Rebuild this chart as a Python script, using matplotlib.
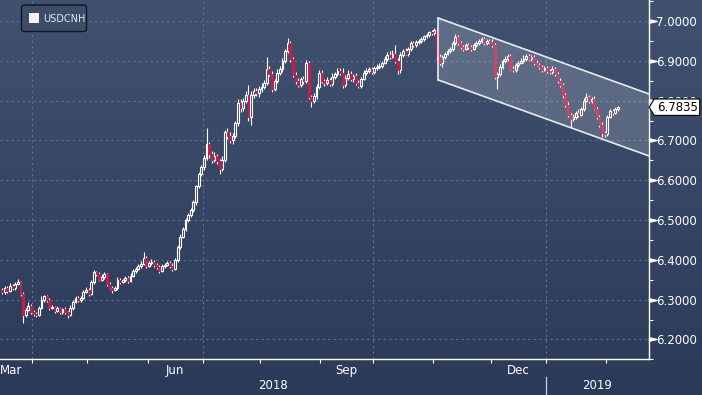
import numpy as np
import pandas as pd
import matplotlib
matplotlib.use("Agg")
import matplotlib.pyplot as plt
import matplotlib.transforms as mtransforms
from matplotlib.patches import Polygon, FancyBboxPatch, Rectangle
from matplotlib.path import Path

# --- datos (cierres diarios USDCNH) ---
start_date = "2018-03-15"
first_open = 6.325
closes = [
    6.318, 6.330, 6.322, 6.335, 6.328, 6.340, 6.345, 6.315, 6.262, 6.275, 6.285, 6.270,
    6.265, 6.262, 6.280, 6.300, 6.308, 6.298, 6.280, 6.282, 6.272, 6.278,
    6.270, 6.276, 6.268, 6.262, 6.280, 6.295, 6.305, 6.300, 6.305, 6.320,
    6.325, 6.315, 6.345, 6.370, 6.365, 6.350, 6.358, 6.365, 6.340, 6.330,
    6.325, 6.330, 6.350, 6.345, 6.350, 6.355, 6.348, 6.360, 6.372, 6.378,
    6.385, 6.390, 6.405, 6.385, 6.392, 6.395, 6.388, 6.382, 6.372, 6.385,
    6.388, 6.392, 6.385, 6.378, 6.400, 6.432, 6.458, 6.478, 6.500, 6.512,
    6.525, 6.545, 6.585, 6.615, 6.632, 6.655, 6.690, 6.665, 6.650, 6.660,
    6.648, 6.628, 6.652, 6.720, 6.712, 6.700, 6.712, 6.745, 6.795, 6.782,
    6.800, 6.815, 6.760, 6.815, 6.825, 6.818, 6.830, 6.835, 6.845, 6.880,
    6.868, 6.830, 6.850, 6.870, 6.880, 6.900, 6.925, 6.945, 6.905, 6.865,
    6.850, 6.840, 6.855, 6.850, 6.895, 6.808, 6.800, 6.812, 6.835, 6.870,
    6.850, 6.845, 6.852, 6.842, 6.860, 6.868, 6.875, 6.870, 6.840, 6.858,
    6.868, 6.855, 6.862, 6.845, 6.838, 6.855, 6.870, 6.875, 6.880, 6.872,
    6.882, 6.885, 6.888, 6.895, 6.905, 6.915, 6.910, 6.918, 6.900, 6.876,
    6.915, 6.925, 6.918, 6.930, 6.945, 6.940, 6.948, 6.950, 6.955, 6.962,
    6.965, 6.972, 6.970, 6.978, 6.910, 6.895, 6.910, 6.918, 6.925, 6.930,
    6.945, 6.960, 6.945, 6.935, 6.930, 6.940, 6.935, 6.930, 6.940, 6.945,
    6.950, 6.955, 6.945, 6.950, 6.948, 6.940, 6.860, 6.868, 6.885, 6.900,
    6.905, 6.912, 6.880, 6.878, 6.890, 6.895, 6.900, 6.905, 6.912, 6.905,
    6.910, 6.895, 6.890, 6.885, 6.878, 6.882, 6.875, 6.872, 6.880, 6.868,
    6.850, 6.840, 6.815, 6.790, 6.765, 6.755, 6.760, 6.770, 6.765, 6.778,
    6.800, 6.808, 6.800, 6.805, 6.780, 6.760, 6.740, 6.718, 6.715, 6.760,
    6.775, 6.770, 6.778, 6.7835,
]
# mechas (milesimas por encima / por debajo del cuerpo)
wick_up = [
    4, 5, 3, 6, 4, 5, 6, 3, 4, 5, 8, 4,
    3, 4, 5, 10, 4, 3, 5, 4, 3, 5,
    4, 3, 5, 3, 6, 4, 5, 3, 4, 5,
    6, 4, 5, 4, 3, 5, 6, 4, 3, 5,
    4, 5, 6, 4, 3, 5, 4, 6, 5, 4,
    5, 6, 15, 4, 5, 6, 4, 3, 5, 4,
    4, 5, 4, 6, 5, 4, 6, 5, 4, 6,
    5, 6, 4, 5, 6, 8, 40, 6, 8, 12,
    6, 5, 8, 6, 10, 8, 6, 5, 10, 8,
    6, 8, 25, 10, 6, 8, 6, 10, 8, 30,
    8, 6, 5, 10, 8, 6, 5, 13, 6, 5,
    6, 8, 5, 8, 6, 5, 6, 8, 6, 8,
    6, 5, 8, 6, 10, 5, 6, 8, 12, 6,
    10, 6, 5, 8, 6, 5, 8, 6, 5, 4,
    5, 8, 6, 5, 8, 6, 10, 8, 23, 6,
    6, 5, 8, 6, 5, 6, 4, 5, 6, 4,
    5, 4, 6, 5, 4, 6, 5, 4, 6, 5,
    6, 8, 5, 6, 4, 5, 6, 4, 6, 5,
    4, 6, 5, 4, 5, 6, 4, 5, 6, 5,
    6, 5, 4, 6, 5, 4, 6, 10, 5, 6,
    5, 4, 6, 5, 4, 6, 5, 4, 6, 5,
    4, 6, 5, 4, 6, 5, 6, 5, 8, 5,
    6, 10, 5, 4, 6, 5, 4, 6, 5, 4,
    5, 4, 5, 4,
]
wick_dn = [
    5, 4, 6, 3, 5, 4, 3, 6, 22, 5, 4, 6,
    5, 6, 4, 3, 5, 4, 6, 3, 5, 4,
    5, 6, 4, 8, 3, 5, 4, 6, 5, 4,
    3, 5, 4, 6, 5, 4, 3, 5, 6, 4,
    8, 4, 5, 6, 4, 5, 6, 4, 3, 5,
    4, 5, 3, 6, 4, 5, 6, 5, 4, 3,
    5, 4, 6, 5, 4, 6, 5, 4, 6, 5,
    4, 5, 6, 5, 4, 6, 5, 8, 6, 5,
    6, 12, 5, 6, 8, 6, 10, 6, 8, 10,
    8, 6, 10, 22, 8, 6, 10, 8, 6, 5,
    6, 8, 6, 5, 6, 8, 5, 6, 8, 6,
    8, 6, 5, 8, 6, 5, 15, 6, 8, 5,
    6, 8, 5, 6, 5, 6, 5, 6, 8, 5,
    5, 6, 8, 5, 6, 5, 4, 5, 6, 5,
    6, 4, 5, 6, 4, 5, 6, 4, 5, 8,
    6, 5, 4, 6, 5, 4, 5, 6, 4, 5,
    4, 5, 6, 4, 8, 6, 10, 5, 4, 6,
    5, 4, 6, 5, 6, 4, 5, 6, 4, 5,
    6, 4, 5, 6, 4, 5, 6, 30, 5, 6,
    5, 6, 4, 5, 6, 5, 4, 6, 5, 4,
    6, 5, 4, 6, 5, 4, 6, 5, 4, 6,
    5, 6, 8, 5, 6, 20, 5, 6, 5, 4,
    5, 4, 6, 5, 4, 6, 5, 10, 6, 5,
    4, 6, 4, 5,
]
# canal bajista (x en dias habiles desde el inicio)
chan_x = [166.5, 246.8]
chan_top = [7.0074, 6.8171]
chan_bot = [6.8519, 6.6613]

yticks = [6.2, 6.3, 6.4, 6.5, 6.6, 6.7, 6.8, 6.9, 7.0]
month_labels = {"Jun": 6, "Sep": 9, "Dec": 12}

# --- colores ---
BG_TOP = "#415170"
BG_BOT = "#2b3a58"
RED = "#c41f4c"
GRID = "#5d7393"

closes = np.array(closes)
opens = np.r_[first_open, closes[:-1]]
highs = np.maximum(opens, closes) + np.array(wick_up) / 1000
lows = np.minimum(opens, closes) - np.array(wick_dn) / 1000
x = np.arange(len(closes))
up = closes >= opens

W, H = 702, 395
fig = plt.figure(figsize=(W / 100, H / 100), dpi=100)

# fondo degradado
bg = fig.add_axes([0, 0, 1, 1], zorder=-10)
grad = np.linspace(0, 1, 256).reshape(-1, 1)
cmap = matplotlib.colors.LinearSegmentedColormap.from_list("bg", [BG_TOP, BG_BOT])
bg.imshow(grad, aspect="auto", cmap=cmap, extent=[0, 1, 0, 1])
bg.axis("off")

ax_h = 359.3 / H
ax_w = 648.7 / W
ax = fig.add_axes([0, 1 - ax_h, ax_w, ax_h])
ax.set_facecolor("none")
ax.set_xlim(-0.83, 246.8)
ax.set_ylim(6.1613, 7.0529)

# limites de mes en dias habiles
month_starts = pd.date_range("2018-04-01", "2019-02-01", freq="MS")
bounds = {d: np.busday_count(start_date, d.date()) - 0.5 for d in month_starts}
quarter_b = [b for d, b in bounds.items() if d.month in (1, 4, 7, 10)]

for y in yticks:
    ax.axhline(y, color=GRID, lw=0.8, ls=(0, (2, 3)), zorder=0)
for b in quarter_b:
    ax.axvline(b, color=GRID, lw=0.8, ls=(0, (2, 3)), zorder=0)

# velas
bw = 0.7
top_body = np.maximum(opens, closes)
bot_body = np.minimum(opens, closes)
ax.vlines(x, top_body, highs, color="white", lw=0.8, zorder=2)
ax.vlines(x, lows, bot_body, color="white", lw=0.8, zorder=2)
h = np.maximum(top_body - bot_body, 0.0008)
ax.bar(x[up], h[up], bottom=bot_body[up], width=bw, facecolor="none",
       edgecolor="white", lw=0.8, zorder=3)
ax.bar(x[~up], h[~up], bottom=bot_body[~up], width=bw, facecolor=RED,
       edgecolor=RED, lw=0.8, zorder=3)

# canal
poly = Polygon([(chan_x[0], chan_top[0]), (chan_x[1], chan_top[1]),
                (chan_x[1], chan_bot[1]), (chan_x[0], chan_bot[0])],
               closed=True, facecolor="white", alpha=0.17, edgecolor="none", zorder=4)
ax.add_patch(poly)
ax.plot(chan_x, chan_top, color="#e8ecf2", lw=1.2, zorder=5)
ax.plot(chan_x, chan_bot, color="#e8ecf2", lw=1.2, zorder=5)
ax.plot([chan_x[0], chan_x[0]], [chan_top[0], chan_bot[0]], color="#e8ecf2", lw=1.2, zorder=5)

# ejes
for s in ["left", "top"]:
    ax.spines[s].set_visible(False)
for s in ["right", "bottom"]:
    ax.spines[s].set_color("white")
    ax.spines[s].set_linewidth(1.0)

ax.yaxis.tick_right()
ax.set_yticks(yticks)
ax.set_yticklabels([f"{v:.4f}" for v in yticks])
ax.set_yticks(np.arange(6.15, 7.06, 0.1), minor=True)
ax.tick_params(axis="y", which="major", length=0, pad=5.5, labelsize=8.5, colors="white")
ax.tick_params(axis="y", which="minor", length=3, width=0.8, color="white", direction="out")

# marcadores triangulares en los ticks principales
tri = Path([(0, -0.22), (0, 0.22), (1, 0), (0, -0.22)])
ytrans = mtransforms.blended_transform_factory(ax.transAxes, ax.transData)
ax.plot([1.0] * len(yticks), yticks, ls="none", marker=tri, ms=11, color="white",
        transform=ytrans, clip_on=False, zorder=6)

ax.set_xticks([])
ax.set_xticks(list(bounds.values()), minor=True)
ax.tick_params(axis="x", which="minor", length=3, width=0.8, color="white",
               direction="out", labelbottom=False)

xt = ax.get_xaxis_transform()
lab_kw = dict(color="white", fontsize=8.5, va="center", transform=xt, clip_on=False)
ax.text(-0.83, -0.030, "Mar", ha="left", **lab_kw)
b_list = list(bounds.items())
for name, m in month_labels.items():
    for i, (d, b) in enumerate(b_list):
        if d.month == m:
            ax.text((b + b_list[i + 1][1]) / 2, -0.030, name, ha="center", **lab_kw)
jan = [b for d, b in bounds.items() if d.month == 1][0]
ax.text((-0.83 + jan) / 2, -0.073, "2018", ha="center", **lab_kw)
ax.text((jan + 246.8) / 2, -0.073, "2019", ha="center", **lab_kw)
ax.plot([jan, jan], [-0.048, -0.1], color="#c8ced8", lw=0.9, transform=xt, clip_on=False)

# etiqueta del ultimo precio
fig.canvas.draw()
_, yd = ax.transData.transform((0, closes[-1]))
xa = ax_w * W
tag = Polygon([(xa + 0.5, yd), (xa + 5.5, yd + 8.2), (xa + 51, yd + 8.2),
               (xa + 51, yd - 8.2), (xa + 5.5, yd - 8.2)], closed=True,
              facecolor="white", edgecolor="black", lw=0.8,
              transform=mtransforms.IdentityTransform(), zorder=20)
fig.patches.append(tag)
fig.text((xa + 28.5) / W, yd / H, f"{closes[-1]:.4f}", ha="center", va="center",
         fontsize=8.5, color="black", zorder=21)

# leyenda
leg = FancyBboxPatch((21.5 / W, 1 - 31.5 / H), 65 / W, 26.5 / H,
                     boxstyle="round,pad=0,rounding_size=0.006",
                     transform=fig.transFigure, facecolor="#3d4d69",
                     edgecolor="#10151e", lw=1.0, zorder=20)
fig.patches.append(leg)
sq = Rectangle((29 / W, 1 - 23 / H), 10 / W, 10 / H, transform=fig.transFigure,
               facecolor="#fbf3f3", edgecolor="none", zorder=21)
fig.patches.append(sq)
fig.text(43.5 / W, 1 - 18.5 / H, "USDCNH", ha="left", va="center", fontsize=7,
         color="#dfe4ec", zorder=22)

fig.savefig("out.png", dpi=100)
